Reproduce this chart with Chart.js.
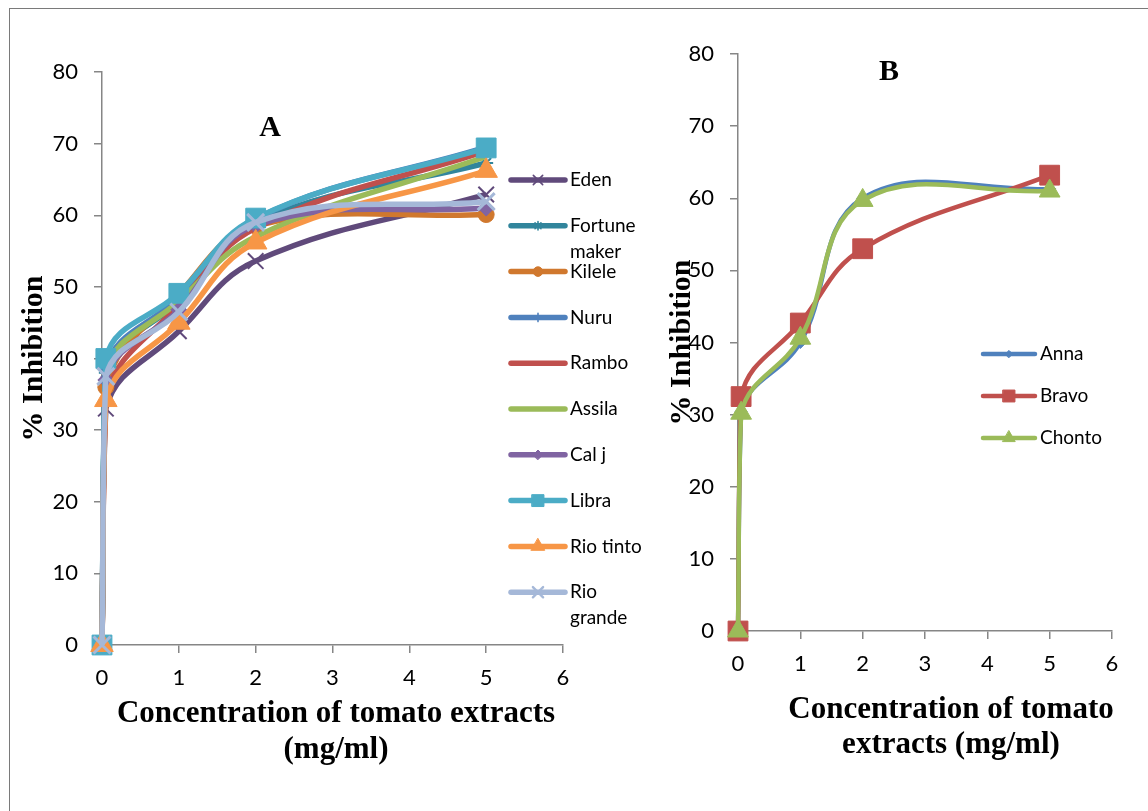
<!DOCTYPE html>
<html>
<head>
<meta charset="utf-8">
<script src="https://cdn.jsdelivr.net/npm/chart.js@4.4.1/dist/chart.umd.min.js"></script>
<style>
  html, body { margin: 0; padding: 0; background: #fff; }
  body { width: 1148px; height: 811px; position: relative; overflow: hidden; }
  #frame { position: absolute; left: 9px; top: 8px; width: 1300px; height: 1000px;
           border-left: 1px solid #7a7a7a; border-top: 1px solid #7a7a7a; }
  canvas { position: absolute; top: 0; }
  #chart-a { left: 0; }
  #chart-b { left: 640px; }
</style>
</head>
<body>
<div id="frame"></div>
<canvas id="chart-a" width="660" height="811"></canvas>
<canvas id="chart-b" width="508" height="811"></canvas>
<script>
'use strict';

// ---- data ----
const concA = [0, 0.05, 1, 2, 5];
const varietiesA = ['Eden', 'Fortune maker', 'Kilele', 'Nuru', 'Rambo',
                    'Assila', 'Cal j', 'Libra', 'Rio tinto', 'Rio grande'];
const eden         = [0, 33.0, 43.8, 53.6, 62.9];
const fortuneMaker = [0, 38.0, 48.0, 59.0, 67.3];
const kilele       = [0, 36.0, 49.0, 58.5, 60.1];
const nuru         = [0, 38.5, 48.5, 59.5, 69.5];
const rambo        = [0, 34.5, 47.5, 58.2, 69.0];
const assila       = [0, 38.0, 48.0, 57.0, 68.2];
const calJ         = [0, 37.0, 46.8, 58.6, 61.0];
const libra        = [0, 40.0, 49.1, 59.6, 69.4];
const rioTinto     = [0, 34.2, 45.0, 56.2, 66.2];
const rioGrande    = [0, 37.5, 46.5, 59.0, 61.9];
const valuesA = [eden, fortuneMaker, kilele, nuru, rambo, assila, calJ, libra, rioTinto, rioGrande];

const concB = [0, 0.05, 1, 2, 5];
const varietiesB = ['Anna', 'Bravo', 'Chonto'];
const anna   = [0, 30.4, 40.0, 60.0, 61.3];
const bravo  = [0, 32.5, 42.7, 53.0, 63.2];
const chonto = [0, 30.2, 40.6, 59.7, 61.0];
const valuesB = [anna, bravo, chonto];

const xTicks = [0, 1, 2, 3, 4, 5, 6];
const yTicks = [0, 10, 20, 30, 40, 50, 60, 70, 80];

// ---- styles ----
const stylesA = [
    {color: '#604a7b', point: 'crossRot', radius: 11, pbw: 2},
    {color: '#31859c', point: 'star', radius: 7, pbw: 2},
    {color: '#d0782e', point: 'circle', radius: 8, pbw: 1},
    {color: '#4f81bd', point: 'cross', radius: 7, pbw: 2},
    {color: '#c0504d', point: 'circle', radius: 0, pbw: 0},
    {color: '#9bbb59', point: 'circle', radius: 0, pbw: 0},
    {color: '#8064a2', point: 'rectRot', radius: 8, pbw: 1},
    {color: '#4bacc6', point: 'rect', radius: 14, pbw: 1},
    {color: '#f79646', point: 'triangle', radius: 13, pbw: 1},
    {color: '#a5b8d8', point: 'crossRot', radius: 12, pbw: 3}
];
const stylesB = [
    {color: '#4f81bd', point: 'rectRot', radius: 6, pbw: 1},
    {color: '#c0504d', point: 'rect', radius: 14, pbw: 1},
    {color: '#9bbb59', point: 'triangle', radius: 12, pbw: 1}
];

const serifBold = '"Liberation Serif", "Times New Roman", serif';
Chart.defaults.font.family = 'Lato, "Open Sans", sans-serif';
Chart.defaults.color = '#000';

function toPoints(xs, ys) {
    return ys.map((y, i) => ({x: xs[i], y: y}));
}

function buildDatasets(names, values, xs, styles, lineWidth) {
    return names.map((name, i) => ({
        label: name,
        data: toPoints(xs, values[i]),
        borderColor: styles[i].color,
        backgroundColor: styles[i].color,
        pointBackgroundColor: styles[i].color,
        pointBorderColor: styles[i].color,
        pointStyle: styles[i].point,
        pointRadius: styles[i].radius,
        pointBorderWidth: styles[i].pbw,
        borderWidth: lineWidth,
        tension: 0.4,
        fill: false,
        clip: false,
        order: names.length - i   // later series on top, like Excel
    }));
}

// legend drawn beside/over the plot, as in the figure
const sideLegend = {
    id: 'sideLegend',
    afterDraw(chart, args, opts) {
        const ctx = chart.ctx;
        ctx.save();
        ctx.font = opts.font;
        ctx.textBaseline = 'middle';
        chart.data.datasets.forEach((ds, i) => {
            const y = opts.top + i * opts.step;
            ctx.strokeStyle = ds.borderColor;
            ctx.lineWidth = ds.borderWidth;
            ctx.lineCap = 'round';
            ctx.beginPath();
            ctx.moveTo(opts.left, y);
            ctx.lineTo(opts.left + opts.sample, y);
            ctx.stroke();
            if (ds.pointRadius > 0 && Chart.helpers && Chart.helpers.drawPoint) {
                ctx.fillStyle = ds.pointBackgroundColor;
                ctx.lineWidth = Math.max(1, ds.pointBorderWidth * 0.8);
                Chart.helpers.drawPoint(ctx, {
                    pointStyle: ds.pointStyle,
                    radius: ds.pointRadius * opts.markerScale,
                    rotation: 0,
                    borderWidth: ds.pointBorderWidth
                }, opts.left + opts.sample / 2, y);
            }
            // wrap long names like the original
            const words = ds.label.split(' ');
            const lines = [];
            let cur = '';
            words.forEach(w => {
                const test = cur ? cur + ' ' + w : w;
                if (cur && ctx.measureText(test).width > opts.maxWidth) {
                    lines.push(cur);
                    cur = w;
                } else {
                    cur = test;
                }
            });
            lines.push(cur);
            ctx.fillStyle = '#000';
            lines.forEach((ln, k) => {
                ctx.fillText(ln, opts.left + opts.sample + 5, y + k * opts.lineGap);
            });
        });
        ctx.restore();
    }
};

// panel letter and x axis caption
const panelText = {
    id: 'panelText',
    afterDraw(chart, args, opts) {
        const ctx = chart.ctx;
        ctx.save();
        ctx.fillStyle = '#000';
        ctx.textAlign = 'center';
        ctx.textBaseline = 'middle';
        ctx.font = 'bold 30px ' + serifBold;
        ctx.fillText(opts.letter, opts.letterX, opts.letterY);
        ctx.font = 'bold 31px ' + serifBold;
        opts.caption.forEach((ln, i) => {
            ctx.fillText(ln, opts.captionX, opts.captionY + i * opts.captionGap);
        });
        ctx.restore();
    }
};

function axisOptions(yWidth, xHeight, titlePad) {
    const gridStyle = {
        drawOnChartArea: false,
        drawTicks: true,
        tickLength: 8,
        color: '#868686',
        lineWidth: 1.5
    };
    return {
        x: {
            type: 'linear',
            min: 0,
            max: 6,
            afterBuildTicks: scale => { scale.ticks = xTicks.map(v => ({value: v})); },
            afterFit: scale => { scale.height = xHeight; },
            ticks: {font: {size: 22}, padding: 12, color: '#000'},
            grid: gridStyle,
            border: {display: true, color: '#868686', width: 1.5}
        },
        y: {
            type: 'linear',
            min: 0,
            max: 80,
            afterBuildTicks: scale => { scale.ticks = yTicks.map(v => ({value: v})); },
            afterFit: scale => { scale.width = yWidth; },
            ticks: {font: {size: 22}, padding: 16, color: '#000'},
            grid: gridStyle,
            border: {display: true, color: '#868686', width: 1.5},
            title: {
                display: true,
                text: '% Inhibition',
                color: '#000',
                font: {family: serifBold, size: 30, weight: 'bold'},
                padding: {top: titlePad, bottom: 0}
            }
        }
    };
}

new Chart(document.getElementById('chart-a').getContext('2d'), {
    type: 'line',
    data: {datasets: buildDatasets(varietiesA, valuesA, concA, stylesA, 5.5)},
    options: {
        responsive: false,
        devicePixelRatio: 1,
        animation: false,
        layout: {padding: {left: 0, top: 72, right: 97, bottom: 0}},
        scales: axisOptions(102, 166, 16),
        plugins: {
            legend: {display: false},
            tooltip: {enabled: false},
            sideLegend: {left: 511, top: 180, step: 45.8, sample: 54, lineGap: 26,
                         maxWidth: 84, markerScale: 0.6, font: '19px Lato'},
            panelText: {letter: 'A', letterX: 270, letterY: 128,
                        caption: ['Concentration of tomato extracts', '(mg/ml)'],
                        captionX: 336, captionY: 714, captionGap: 36}
        }
    },
    plugins: [sideLegend, panelText]
});

new Chart(document.getElementById('chart-b').getContext('2d'), {
    type: 'line',
    data: {datasets: buildDatasets(varietiesB, valuesB, concB, stylesB, 4.5)},
    options: {
        responsive: false,
        devicePixelRatio: 1,
        animation: false,
        layout: {padding: {left: 0, top: 54, right: 36, bottom: 0}},
        scales: axisOptions(98, 180, 24),
        plugins: {
            legend: {display: false},
            tooltip: {enabled: false},
            sideLegend: {left: 343, top: 354, step: 42, sample: 52, lineGap: 26,
                         maxWidth: 90, markerScale: 0.6, font: '19px Lato'},
            panelText: {letter: 'B', letterX: 249, letterY: 72,
                        caption: ['Concentration of tomato', 'extracts (mg/ml)'],
                        captionX: 311, captionY: 710, captionGap: 35}
        }
    },
    plugins: [sideLegend, panelText]
});
</script>
</body>
</html>
